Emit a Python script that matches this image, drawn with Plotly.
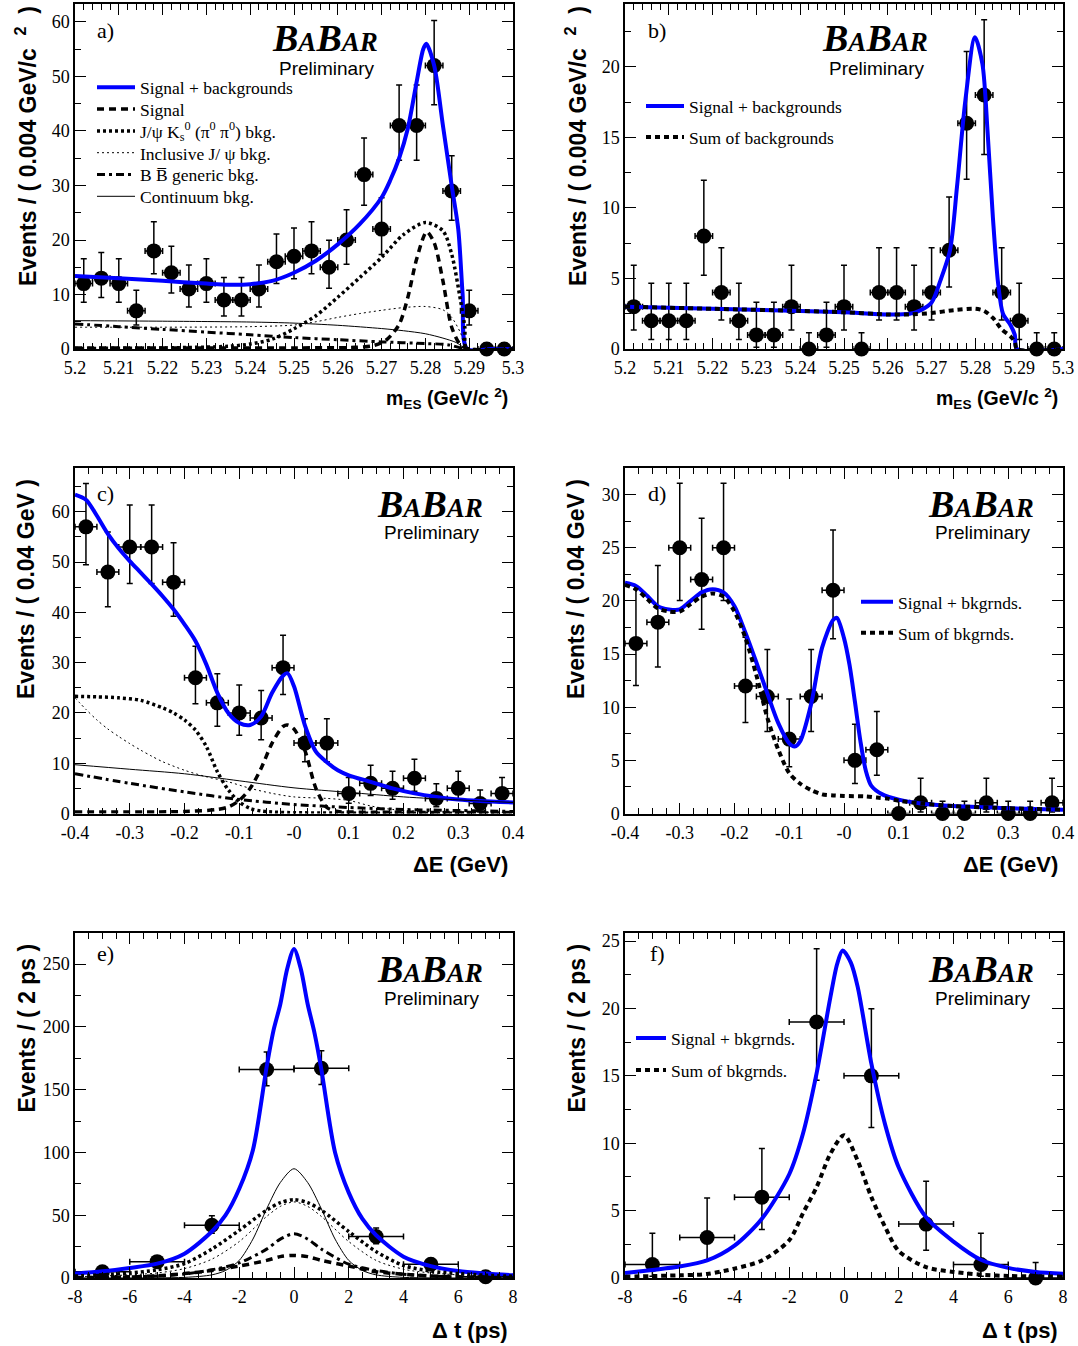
import plotly.graph_objects as go

W, H = 1078, 1346

# ======================= DATA =======================
# bin centres
mes_centres = [5.202, 5.206, 5.210, 5.214, 5.218, 5.222, 5.226, 5.230, 5.234, 5.238, 5.242, 5.246, 5.250,
               5.254, 5.258, 5.262, 5.266, 5.270, 5.274, 5.278, 5.282, 5.286, 5.290, 5.294, 5.298]
de_centres = [-0.38, -0.34, -0.30, -0.26, -0.22, -0.18, -0.14, -0.10, -0.06, -0.02,
              0.02, 0.06, 0.10, 0.14, 0.18, 0.22, 0.26, 0.30, 0.34, 0.38]
dt_centres = [-7, -5, -3, -1, 1, 3, 5, 7]
mes_halfbin = 0.002
de_halfbin = 0.02
dt_halfbin = 1.0

# panel a
a_counts = [12, 13, 12, 7, 18, 14, 11, 12, 9, 9, 11, 16, 17, 18, 15, 20, 32, 22, 41, 41, 52, 29, 7, 0, 0]
a_err_lo = [3.43, 3.57, 3.43, 2.60, 4.21, 3.71, 3.28, 3.43, 2.96, 2.96, 3.28, 3.97, 4.09, 4.21, 3.84, 4.44,
            5.63, 4.66, 6.38, 6.38, 7.19, 5.36, 2.60, 0, 0]
a_err_hi = [4.57, 4.71, 4.57, 3.78, 5.33, 4.84, 4.43, 4.57, 4.12, 4.12, 4.43, 5.09, 5.21, 5.33, 4.97, 5.56,
            6.72, 5.77, 7.46, 7.46, 8.26, 6.45, 3.78, 1.15, 1.15]
a_x_total = [5.200, 5.210, 5.220, 5.230, 5.235, 5.240, 5.245, 5.250, 5.255, 5.260, 5.265, 5.270, 5.272,
             5.274, 5.276, 5.278, 5.2795, 5.2802, 5.282, 5.284, 5.286, 5.2875, 5.2885, 5.2895, 5.295, 5.300]
a_y_total = [13.4, 13.0, 12.5, 12.0, 11.8, 11.9, 12.5, 14.0, 16.2, 19.2, 22.9, 27.8, 31.0,
             35.0, 40.5, 49.0, 55.0, 56.0, 52.0, 41.0, 30.0, 22.0, 10.0, 0, 0, 0]
a_x_sig = [5.200, 5.250, 5.264, 5.268, 5.271, 5.274, 5.276, 5.278, 5.2803, 5.282, 5.284, 5.286, 5.288, 5.290, 5.300]
a_y_sig = [0.2, 0.2, 0.3, 0.6, 1.6, 4.5, 9.5, 16.5, 21.5, 19.5, 12.5, 4.0, 0.8, 0, 0]
a_x_jks = [5.200, 5.220, 5.235, 5.240, 5.245, 5.250, 5.255, 5.260, 5.265, 5.270, 5.275, 5.280, 5.284,
           5.286, 5.288, 5.289, 5.2895, 5.300]
a_y_jks = [0.1, 0.2, 0.5, 0.9, 1.8, 3.7, 6.1, 9.5, 13.1, 16.8, 21.0, 23.2, 21.7, 17.4, 9.0, 4.0, 0, 0]
a_x_inc = [5.200, 5.220, 5.240, 5.250, 5.255, 5.260, 5.265, 5.270, 5.275, 5.280, 5.284, 5.286, 5.288, 5.2895, 5.300]
a_y_inc = [4.0, 4.0, 4.1, 4.4, 5.0, 5.8, 6.5, 7.1, 7.6, 7.8, 7.2, 5.8, 3.0, 0, 0]
a_x_bb = [5.200, 5.210, 5.220, 5.230, 5.240, 5.250, 5.260, 5.270, 5.280, 5.285, 5.2895, 5.300]
a_y_bb = [4.6, 4.1, 3.6, 3.1, 2.6, 2.1, 1.7, 1.3, 1.0, 0.8, 0, 0]
a_x_cont = [5.200, 5.220, 5.240, 5.250, 5.260, 5.270, 5.275, 5.280, 5.284, 5.287, 5.2895, 5.300]
a_y_cont = [5.2, 5.1, 4.95, 4.75, 4.35, 3.75, 3.35, 2.8, 2.0, 1.2, 0, 0]

# panel b
b_counts = [3, 2, 2, 2, 8, 4, 2, 1, 1, 3, 0, 1, 3, 0, 4, 4, 3, 4, 7, 16, 18, 4, 2, 0, 0]
b_err_lo = [1.66, 1.32, 1.32, 1.32, 2.78, 1.94, 1.32, 0.87, 0.87, 1.66, 0, 0.87, 1.66, 0, 1.94, 1.94,
            1.66, 1.94, 2.60, 3.97, 4.21, 1.94, 1.32, 0, 0]
b_err_hi = [2.94, 2.66, 2.66, 2.66, 3.96, 3.18, 2.66, 2.32, 2.32, 2.94, 1.15, 2.32, 2.94, 1.15, 3.18, 3.18,
            2.94, 3.18, 3.78, 5.09, 5.33, 3.18, 2.66, 1.15, 1.15]
b_x_total = [5.200, 5.220, 5.240, 5.250, 5.260, 5.265, 5.2675, 5.270, 5.272, 5.2742, 5.2758, 5.2777, 5.2799,
             5.2816, 5.2828, 5.284, 5.2852, 5.2863, 5.288, 5.289, 5.2895, 5.300]
b_y_total = [3.0, 2.85, 2.7, 2.6, 2.45, 2.5, 2.75, 3.3, 4.85, 7.0, 11.5, 17.6, 22.1,
             20.2, 15.3, 9.3, 4.6, 2.5, 1.7, 1.0, 0, 0]
b_x_bkg = [5.200, 5.220, 5.240, 5.250, 5.260, 5.265, 5.270, 5.275, 5.280, 5.282, 5.284, 5.286, 5.288,
           5.289, 5.2895, 5.300]
b_y_bkg = [3.0, 2.85, 2.7, 2.6, 2.45, 2.45, 2.55, 2.75, 2.85, 2.7, 2.2, 1.4, 0.9, 0.5, 0, 0]

# panel c
c_counts = [57, 48, 53, 53, 46, 27, 22, 20, 19, 29, 14, 14, 4, 6, 5, 7, 3, 5, 2, 4]
c_err_lo = [7.53, 6.91, 7.26, 7.26, 6.76, 5.17, 4.66, 4.44, 4.33, 5.36, 3.71, 3.71, 1.94, 2.40, 2.18, 2.60,
            1.66, 2.18, 1.32, 1.94]
c_err_hi = [8.60, 7.98, 8.33, 8.33, 7.84, 6.27, 5.77, 5.56, 5.44, 6.45, 4.84, 4.84, 3.18, 3.60, 3.40, 3.78,
            2.94, 3.40, 2.66, 3.18]
c_x_total = [-0.40, -0.38, -0.36, -0.34, -0.32, -0.30, -0.28, -0.26, -0.24, -0.22, -0.20, -0.18, -0.16,
             -0.14, -0.12, -0.10, -0.08, -0.06, -0.04, -0.02, -0.012, 0.00, 0.02, 0.04, 0.06, 0.08, 0.10,
             0.14, 0.18, 0.22, 0.26, 0.30, 0.34, 0.40]
c_y_total = [63.4, 62.4, 59.2, 55.6, 52.7, 50.2, 47.9, 45.6, 43.2, 40.6, 37.6, 34.3, 29.6,
             24.0, 20.0, 18.0, 17.6, 19.3, 24.0, 27.4, 27.9, 25.3, 17.5, 12.3, 10.2, 8.6, 7.6,
             6.3, 5.0, 4.0, 3.3, 2.8, 2.5, 2.2]
c_x_sig = [-0.40, -0.20, -0.14, -0.12, -0.10, -0.08, -0.06, -0.04, -0.02, -0.012, 0.00, 0.02, 0.04, 0.06,
           0.08, 0.10, 0.40]
c_y_sig = [0.3, 0.4, 0.8, 1.3, 2.6, 5.0, 9.0, 14.0, 17.3, 17.6, 16.8, 12.5, 5.0, 1.2, 0.4, 0.3, 0.2]
c_x_jks = [-0.40, -0.36, -0.32, -0.28, -0.24, -0.22, -0.20, -0.18, -0.16, -0.14, -0.12, -0.10, -0.08,
           -0.06, -0.02, 0.40]
c_y_jks = [23.3, 23.2, 23.0, 22.5, 21.0, 20.0, 18.6, 16.6, 13.3, 8.3, 4.7, 2.3, 1.0, 0.5, 0.2, 0.1]
c_x_inc = [-0.40, -0.38, -0.36, -0.34, -0.32, -0.30, -0.28, -0.26, -0.24, -0.20, -0.16, -0.12, -0.08,
           -0.04, 0.00, 0.06, 0.10, 0.14, 0.18, 0.24, 0.30, 0.40]
c_y_inc = [23.0, 20.7, 18.6, 16.8, 15.3, 13.9, 12.6, 11.4, 10.3, 8.6, 7.3, 6.3, 5.0, 4.0, 3.3, 3.0, 2.6,
           1.5, 0.8, 0.4, 0.3, 0.2]
c_x_cont = [-0.40, -0.30, -0.20, -0.10, 0.00, 0.10, 0.20, 0.30, 0.40]
c_y_cont = [9.7, 8.8, 7.9, 6.5, 5.1, 4.2, 3.3, 2.7, 2.2]
c_x_bb = [-0.40, -0.30, -0.20, -0.10, 0.00, 0.10, 0.20, 0.30, 0.40]
c_y_bb = [7.9, 6.0, 4.3, 2.8, 1.8, 1.2, 0.8, 0.6, 0.4]

# panel d
d_counts = [16, 18, 25, 22, 25, 12, 11, 7, 11, 21, 5, 6, 0, 1, 0, 0, 1, 0, 0, 1]
d_err_lo = [3.97, 4.21, 4.97, 4.66, 4.97, 3.43, 3.28, 2.60, 3.28, 4.56, 2.18, 2.40, 0, 0.87, 0, 0, 0.87,
            0, 0, 0.87]
d_err_hi = [5.09, 5.33, 6.07, 5.77, 6.07, 4.57, 4.43, 3.78, 4.43, 5.66, 3.40, 3.60, 1.15, 2.32, 1.15, 1.15,
            2.32, 1.15, 1.15, 2.32]
d_x_total = [-0.40, -0.38, -0.36, -0.34, -0.32, -0.30, -0.28, -0.26, -0.24, -0.22, -0.20, -0.18, -0.16,
             -0.14, -0.12, -0.10, -0.09, -0.08, -0.06, -0.04, -0.02, -0.013, 0.00, 0.01, 0.02, 0.03,
             0.04, 0.05, 0.07, 0.10, 0.14, 0.20, 0.30, 0.40]
d_y_total = [21.7, 21.4, 20.5, 19.5, 19.2, 19.2, 20.0, 20.8, 21.1, 20.8, 19.5, 17.0, 14.2,
             11.3, 8.5, 6.6, 6.3, 6.8, 10.3, 15.6, 18.2, 18.4, 16.5, 14.0, 10.5, 6.8,
             4.0, 2.6, 1.8, 1.3, 0.95, 0.7, 0.5, 0.35]
d_x_bkg = [-0.40, -0.38, -0.36, -0.34, -0.32, -0.30, -0.28, -0.26, -0.24, -0.22, -0.20, -0.18, -0.16,
           -0.14, -0.12, -0.10, -0.08, -0.06, -0.04, -0.02, 0.00, 0.04, 0.06, 0.08, 0.10, 0.14, 0.20,
           0.30, 0.40]
d_y_bkg = [21.5, 21.1, 20.2, 19.3, 19.0, 19.0, 19.7, 20.4, 20.7, 20.4, 19.0, 16.5, 13.0,
           9.0, 6.0, 3.8, 2.8, 2.2, 1.8, 1.7, 1.65, 1.6, 1.5, 1.4, 1.2, 0.95, 0.7, 0.5, 0.35]

# panel e
e_counts = [5, 13, 42, 166, 167, 33, 11, 1]
e_err_lo = [2.18, 3.57, 6.46, 12.87, 12.91, 5.72, 3.28, 0.87]
e_err_hi = [3.40, 4.71, 7.54, 13.91, 13.95, 6.81, 4.43, 2.32]
e_x_total = [-8, -7, -6, -5, -4, -3, -2.5, -2, -1.5, -1, -0.75, -0.5, -0.25, 0, 0.25, 0.5, 0.75, 1,
             1.5, 2, 2.5, 3, 4, 5, 6, 7, 8]
e_y_total = [3.5, 5.3, 8.0, 11.4, 19.4, 37, 50, 71, 102, 168, 197, 218, 246, 262, 246, 218, 195, 166,
             100, 68, 47, 34, 17, 9.5, 5.5, 3.6, 2.2]
e_x_comp = [-8, -7, -6, -5, -4, -3, -2, -1, -0.5, 0, 0.5, 1, 2, 3, 4, 5, 6, 7, 8]
e_y_jks = [1.5, 2.5, 4.0, 6.5, 11.5, 23, 38, 54, 60, 62.4, 60, 54, 37, 21, 10, 5.5, 3.5, 2.2, 1.4]
e_y_inc = [1.0, 1.6, 2.5, 4.0, 7.5, 15, 29, 49, 57, 60.6, 57, 49, 29, 14, 7, 4, 2.5, 1.5, 1.0]
e_y_bb = [0.3, 0.5, 0.9, 1.6, 3.2, 6.5, 12, 23, 31, 35.3, 31, 23, 11, 6, 3, 1.6, 0.9, 0.5, 0.3]
e_y_sig = [0.3, 0.5, 0.9, 1.8, 3.5, 6, 9.5, 14, 17, 18, 17, 14, 9.5, 5, 3, 1.6, 0.9, 0.5, 0.3]
e_x_cont = [-8, -4, -3, -2.5, -2, -1.5, -1, -0.5, 0, 0.5, 1, 1.5, 2, 2.5, 3, 4, 8]
e_y_cont = [0.1, 0.5, 2.5, 6, 14, 31, 55, 76, 87, 76, 55, 31, 14, 6, 2.5, 0.5, 0.1]

# panel f
f_counts = [1, 3, 6, 19, 15, 4, 1, 0]
f_err_lo = [0.87, 1.66, 2.40, 4.33, 3.84, 1.94, 0.87, 0]
f_err_hi = [2.32, 2.94, 3.60, 5.44, 4.97, 3.18, 2.32, 1.15]
f_x_total = [-8, -7, -6, -5, -4, -3, -2, -1.5, -1, -0.5, -0.25, -0.05, 0.25, 0.5, 1, 1.5, 2, 3, 4, 5, 6, 7, 8]
f_y_total = [0.37, 0.6, 0.85, 1.3, 2.4, 4.4, 7.7, 10.7, 15.2, 20.8, 23.3, 24.3, 23.4, 21.6, 15.9, 11.4, 8.2,
             4.5, 2.7, 1.35, 0.75, 0.45, 0.32]
f_x_bkg = [-8, -6, -5, -4, -3, -2, -1.5, -1, -0.5, 0, 0.5, 1, 1.5, 2, 3, 4, 5, 6, 8]
f_y_bkg = [0.1, 0.2, 0.3, 0.7, 1.3, 2.8, 4.8, 6.75, 9.2, 10.6, 8.7, 6.0, 3.8, 2.0, 0.8, 0.45, 0.25, 0.15, 0.1]

# tick labels
mes_tickvals = [5.20, 5.21, 5.22, 5.23, 5.24, 5.25, 5.26, 5.27, 5.28, 5.29, 5.30]
mes_ticktext = ["5.2", "5.21", "5.22", "5.23", "5.24", "5.25", "5.26", "5.27", "5.28", "5.29", "5.3"]
de_tickvals = [-0.4, -0.3, -0.2, -0.1, 0.0, 0.1, 0.2, 0.3, 0.4]
de_ticktext = ["-0.4", "-0.3", "-0.2", "-0.1", "-0", "0.1", "0.2", "0.3", "0.4"]
dt_tickvals = [-8, -6, -4, -2, 0, 2, 4, 6, 8]
dt_ticktext = ["-8", "-6", "-4", "-2", "0", "2", "4", "6", "8"]

# ======================= LAYOUT HELPERS =======================
COLS = [(75, 513), (625, 1063)]
ROWS = [(4, 349), (468, 813.5), (933, 1278)]


def fx(p):
    return p / W


def fy(p):
    return 1 - p / H


STY = {
    'total': dict(color='#0000ff', width=4, dash='solid'),
    'signal': dict(color='black', width=3.5, dash='7px,5px'),
    'jks': dict(color='black', width=3.5, dash='3px,3px'),
    'incl': dict(color='black', width=1, dash='2px,3px'),
    'bb': dict(color='black', width=3, dash='8px,4px,3px,4px'),
    'cont': dict(color='black', width=1, dash='solid'),
    'bkg': dict(color='black', width=4, dash='5px,4px'),
}

LEG_FONT = 17.5
# one single-entry legend box per legend line: (left px, entry centre px, item width)
LEGENDS = {
    'legend': (92, 87.3, 38), 'legend2': (92, 109.1, 38), 'legend3': (92, 130.9, 38),
    'legend4': (92, 152.7, 38), 'legend5': (92, 174.5, 38), 'legend6': (92, 196.3, 38),
    'legend7': (641, 106, 38), 'legend8': (641, 137, 38),
    'legend9': (856, 601.7, 32), 'legend10': (856, 632.7, 32),
    'legend11': (631, 1038, 30), 'legend12': (631, 1070, 30),
}

fig = go.Figure()


def add_data(i, x, y, lo, hi, hw):
    fig.add_trace(go.Scatter(
        x=x, y=y, mode='markers', xaxis='x%d' % i, yaxis='y%d' % i, showlegend=False, cliponaxis=False,
        marker=dict(color='black', size=15),
        error_y=dict(type='data', symmetric=False, array=hi, arrayminus=lo, color='black', thickness=1.5, width=3),
        error_x=dict(type='constant', value=hw, color='black', thickness=1.5, width=3)))


def add_curve(i, x, y, style, name=None, legend=None):
    fig.add_trace(go.Scatter(
        x=x, y=y, mode='lines', xaxis='x%d' % i, yaxis='y%d' % i,
        line=dict(shape='spline', smoothing=0.8, **STY[style]),
        name=name if name else style, showlegend=legend is not None,
        legend=legend if legend else 'legend', hoverinfo='skip'))


# panel a
add_data(1, mes_centres, a_counts, a_err_lo, a_err_hi, mes_halfbin)
add_curve(1, a_x_total, a_y_total, 'total', 'Signal + backgrounds', 'legend')
add_curve(1, a_x_sig, a_y_sig, 'signal', 'Signal', 'legend2')
add_curve(1, a_x_jks, a_y_jks, 'jks', 'J/ψ K<sub>s</sub><sup>0</sup> (π<sup>0</sup> π<sup>0</sup>) bkg.', 'legend3')
add_curve(1, a_x_inc, a_y_inc, 'incl', 'Inclusive J/ ψ bkg.', 'legend4')
add_curve(1, a_x_bb, a_y_bb, 'bb', 'B B\u0305 generic bkg.', 'legend5')
add_curve(1, a_x_cont, a_y_cont, 'cont', 'Continuum bkg.', 'legend6')

# panel b
add_data(2, mes_centres, b_counts, b_err_lo, b_err_hi, mes_halfbin)
add_curve(2, b_x_total, b_y_total, 'total', 'Signal + backgrounds', 'legend7')
add_curve(2, b_x_bkg, b_y_bkg, 'bkg', 'Sum of backgrounds', 'legend8')

# panel c
add_data(3, de_centres, c_counts, c_err_lo, c_err_hi, de_halfbin)
add_curve(3, c_x_total, c_y_total, 'total')
add_curve(3, c_x_sig, c_y_sig, 'signal')
add_curve(3, c_x_jks, c_y_jks, 'jks')
add_curve(3, c_x_inc, c_y_inc, 'incl')
add_curve(3, c_x_bb, c_y_bb, 'bb')
add_curve(3, c_x_cont, c_y_cont, 'cont')

# panel d
add_data(4, de_centres, d_counts, d_err_lo, d_err_hi, de_halfbin)
add_curve(4, d_x_total, d_y_total, 'total', 'Signal + bkgrnds.', 'legend9')
add_curve(4, d_x_bkg, d_y_bkg, 'bkg', 'Sum of bkgrnds.', 'legend10')

# panel e
add_data(5, dt_centres, e_counts, e_err_lo, e_err_hi, dt_halfbin)
add_curve(5, e_x_total, e_y_total, 'total')
add_curve(5, e_x_cont, e_y_cont, 'cont')
add_curve(5, e_x_comp, e_y_jks, 'jks')
add_curve(5, e_x_comp, e_y_inc, 'incl')
add_curve(5, e_x_comp, e_y_bb, 'bb')
add_curve(5, e_x_comp, e_y_sig, 'signal')

# panel f
add_data(6, dt_centres, f_counts, f_err_lo, f_err_hi, dt_halfbin)
add_curve(6, f_x_total, f_y_total, 'total', 'Signal + bkgrnds.', 'legend11')
add_curve(6, f_x_bkg, f_y_bkg, 'bkg', 'Sum of bkgrnds.', 'legend12')

# ======================= AXES =======================
panels = [
    dict(col=0, row=0, xr=[5.2, 5.3], tv=mes_tickvals, tt=mes_ticktext, xm=(5.2, 0.002),
         yr=[0, 63.3], yd=10, ym=5, lab='a)'),
    dict(col=1, row=0, xr=[5.2, 5.3], tv=mes_tickvals, tt=mes_ticktext, xm=(5.2, 0.002),
         yr=[0, 24.45], yd=5, ym=2.5, lab='b)'),
    dict(col=0, row=1, xr=[-0.4, 0.4], tv=de_tickvals, tt=de_ticktext, xm=(-0.4, 0.025),
         yr=[0, 68.7], yd=10, ym=5, lab='c)'),
    dict(col=1, row=1, xr=[-0.4, 0.4], tv=de_tickvals, tt=de_ticktext, xm=(-0.4, 0.025),
         yr=[0, 32.5], yd=5, ym=2.5, lab='d)'),
    dict(col=0, row=2, xr=[-8, 8], tv=dt_tickvals, tt=dt_ticktext, xm=(-8, 0.5),
         yr=[0, 274.7], yd=50, ym=25, lab='e)'),
    dict(col=1, row=2, xr=[-8, 8], tv=dt_tickvals, tt=dt_ticktext, xm=(-8, 0.5),
         yr=[0, 25.6], yd=5, ym=2.5, lab='f)'),
]

common = dict(showline=True, linecolor='black', linewidth=1.5, mirror='allticks', ticks='inside',
              ticklen=11, tickwidth=1.2, tickcolor='black', showgrid=False, zeroline=False,
              automargin=False,
              tickfont=dict(family='Liberation Serif', size=18, color='black'), fixedrange=True)

layout = dict(template='none', width=W, height=H, margin=dict(l=0, r=0, t=0, b=0, pad=0),
              paper_bgcolor='white', plot_bgcolor='white', showlegend=True)

for i, p in enumerate(panels, start=1):
    c0, c1 = COLS[p['col']]
    r0, r1 = ROWS[p['row']]
    layout['xaxis%d' % i] = dict(
        domain=[fx(c0), fx(c1)], range=p['xr'], anchor='y%d' % i,
        tickmode='array', tickvals=p['tv'], ticktext=p['tt'], ticklabelstandoff=2,
        minor=dict(ticks='inside', ticklen=6, tickwidth=1, tickcolor='black',
                   tickmode='linear', tick0=p['xm'][0], dtick=p['xm'][1], showgrid=False),
        **common)
    layout['yaxis%d' % i] = dict(
        domain=[fy(r1), fy(r0)], range=p['yr'], anchor='x%d' % i,
        tickmode='linear', tick0=0, dtick=p['yd'],
        minor=dict(ticks='inside', ticklen=6, tickwidth=1, tickcolor='black',
                   tickmode='linear', tick0=0, dtick=p['ym'], showgrid=False),
        **common)

leg_item_h = LEG_FONT * 1.3 + 3
for key, (lx, cy, iw) in LEGENDS.items():
    layout[key] = dict(x=fx(lx), y=fy(cy - 5 - leg_item_h / 2), itemwidth=iw,
                       bgcolor='rgba(0,0,0,0)', borderwidth=0, xanchor='left', yanchor='top',
                       font=dict(family='Liberation Serif', size=LEG_FONT, color='black'))

fig.update_layout(**layout)

# ======================= TEXT =======================
NB = '\u00a0'
ann = []
ytitles = ["Events / ( 0.004 GeV/c" + NB + NB + "<sup>2</sup>" + NB + NB + ")",
           "Events / ( 0.04 GeV )", "Events / ( 2 ps )"]
ytops = [4, 477, 942]
xtitles = ["m<sub>ES</sub> (GeV/c <sup>2</sup>)", "ΔE (GeV)", "Δ t (ps)"]
xtit_size = [19.5, 22, 22]
xtit_y = [398, 864, 1330]
ycentres_x = [26, 576]
xtit_right = [510, 1060]
lab_x = [106, 657]
lab_y = [30, 493, 953]
logo_x = [[325, 875], [430, 981], [430, 981]]
logo_y = [38, 504, 969]
prel_y = [68, 533, 998]
logo_txt = ("<b><i>B<span style='font-size:27px'>A</span>B"
            "<span style='font-size:27px'>AR</span></i></b>")

for r in range(3):
    for c in range(2):
        ann.append(dict(text="<b>%s</b>" % ytitles[r], x=fx(ycentres_x[c]), y=fy(ytops[r]),
                        xref='paper', yref='paper', xanchor='center', yanchor='top', textangle=-90,
                        showarrow=False, font=dict(family='Liberation Sans', size=23, color='black')))
        ann.append(dict(text="<b>%s</b>" % xtitles[r], x=fx(xtit_right[c]), y=fy(xtit_y[r]),
                        xref='paper', yref='paper', xanchor='right', yanchor='middle', showarrow=False,
                        font=dict(family='Liberation Sans', size=xtit_size[r], color='black')))
        ann.append(dict(text=panels[r * 2 + c]['lab'], x=fx(lab_x[c]), y=fy(lab_y[r]),
                        xref='paper', yref='paper', xanchor='center', yanchor='middle', showarrow=False,
                        font=dict(family='Liberation Serif', size=22, color='black')))
        ann.append(dict(text=logo_txt, x=fx(logo_x[r][c]), y=fy(logo_y[r]),
                        xref='paper', yref='paper', xanchor='center', yanchor='middle', showarrow=False,
                        font=dict(family='Liberation Serif', size=38, color='black')))
        ann.append(dict(text="Preliminary", x=fx(logo_x[r][c] + 2), y=fy(prel_y[r]),
                        xref='paper', yref='paper', xanchor='center', yanchor='middle', showarrow=False,
                        font=dict(family='Liberation Sans', size=19, color='black')))

fig.update_layout(annotations=ann)

fig.write_html("out.html", config={'displayModeBar': False},
               post_script="document.body.style.margin='0';")
